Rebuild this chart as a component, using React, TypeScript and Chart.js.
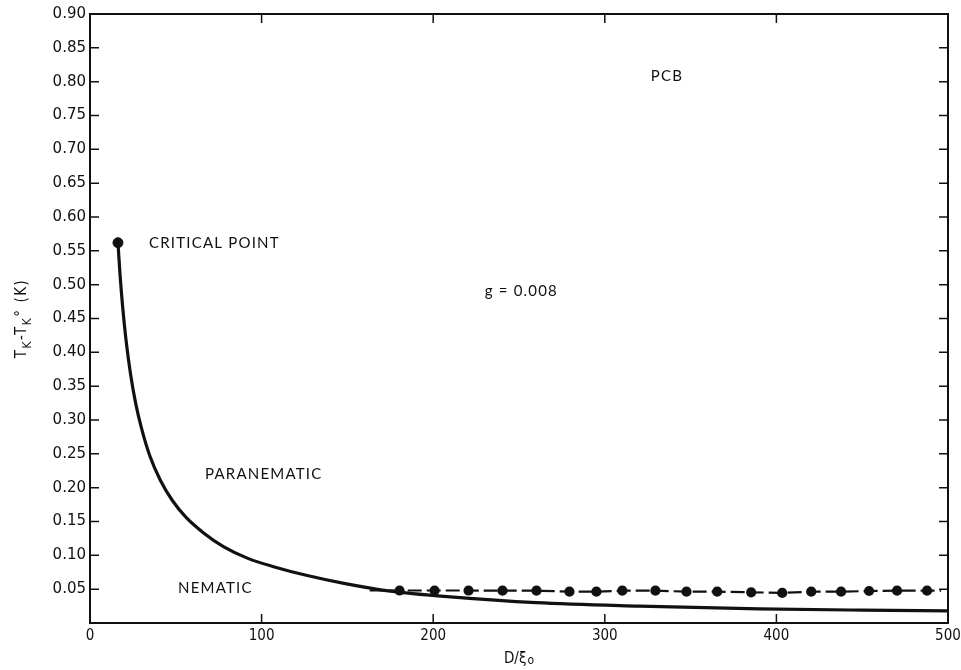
import React, { useEffect, useRef } from "react";
import { Chart, registerables } from "chart.js";

Chart.register(...registerables);

// Phase boundary curve (D/xi0, Tk - Tk0)
const curveX = [16.3, 17.5, 19, 21, 23.5, 26.5, 30, 35, 41, 48, 56, 66, 78, 92, 108, 126, 148, 175, 210, 260, 320, 390, 450, 500];
const curveY = [0.562, 0.515, 0.468, 0.418, 0.370, 0.326, 0.288, 0.246, 0.211, 0.181, 0.156, 0.1335, 0.1125, 0.0955, 0.0825, 0.0705, 0.0585, 0.047, 0.0385, 0.030, 0.025, 0.021, 0.019, 0.0178];

// Critical point
const criticalX = [16.3];
const criticalY = [0.562];

// Dotted/dashed series (points)
const dotX = [163, 180.4, 200.8, 220.6, 240.4, 260.2, 279.4, 295.1, 310.2, 329.5, 347.6, 365.5, 385.3, 403.4, 420.3, 437.7, 454.0, 470.3, 487.8, 496];
const dotY = [0.048, 0.048, 0.048, 0.048, 0.0478, 0.0478, 0.0463, 0.0463, 0.0478, 0.0478, 0.0463, 0.0463, 0.0454, 0.0445, 0.0463, 0.0463, 0.0473, 0.0478, 0.0478, 0.0478];
const dotShown = [false, true, true, true, true, true, true, true, true, true, true, true, true, true, true, true, true, true, true, false];

const xTicks = [0, 100, 200, 300, 400, 500];
const yTickStep = 0.05;

const labelTexts = ["CRITICAL POINT", "PARANEMATIC", "NEMATIC", "g = 0.008", "PCB"];
const labelX = [34.4, 67, 51.3, 230, 326.8];
const labelY = [0.562, 0.22, 0.052, 0.49, 0.808];

const INK = "#111";
const LABEL_FONT = "15px 'Lato', 'DejaVu Sans', sans-serif";
const TICK_FONT_FAMILY = "'DejaVu Sans Condensed', 'Liberation Sans Narrow', 'DejaVu Sans', sans-serif";

const framePlugin = {
  id: "frame",
  afterDatasetsDraw(chart: any) {
    const { ctx, chartArea: a, scales } = chart;
    const xs = scales.x;
    const ys = scales.y;
    ctx.save();
    ctx.strokeStyle = INK;
    ctx.lineWidth = 2;
    ctx.strokeRect(a.left, a.top, a.right - a.left, a.bottom - a.top);
    ctx.lineWidth = 1.5;
    const tl = 9;
    xTicks.forEach((v) => {
      if (v === xs.min || v === xs.max) return;
      const px = xs.getPixelForValue(v);
      ctx.beginPath();
      ctx.moveTo(px, a.bottom);
      ctx.lineTo(px, a.bottom - tl);
      ctx.moveTo(px, a.top);
      ctx.lineTo(px, a.top + tl);
      ctx.stroke();
    });
    for (let i = 1; i < 18; i++) {
      const py = ys.getPixelForValue(i * yTickStep);
      ctx.beginPath();
      ctx.moveTo(a.left, py);
      ctx.lineTo(a.left + tl, py);
      ctx.moveTo(a.right, py);
      ctx.lineTo(a.right - tl, py);
      ctx.stroke();
    }
    // annotations
    ctx.fillStyle = INK;
    ctx.font = LABEL_FONT;
    ctx.textBaseline = "middle";
    ctx.textAlign = "left";
    (ctx as any).letterSpacing = "1.2px";
    labelTexts.forEach((t, i) => {
      ctx.fillText(t, xs.getPixelForValue(labelX[i]), ys.getPixelForValue(labelY[i]));
    });
    (ctx as any).letterSpacing = "0px";

    // x title: D/ξo
    const cx = (a.left + a.right) / 2;
    ctx.font = "15px " + TICK_FONT_FAMILY;
    ctx.textAlign = "left";
    ctx.textBaseline = "alphabetic";
    const main = "D/ξ";
    const wMain = ctx.measureText(main).width;
    ctx.font = "12px " + TICK_FONT_FAMILY;
    const wSub = ctx.measureText("o").width;
    const startX = cx - (wMain + wSub + 1) / 2;
    const baseY = 663;
    ctx.font = "15px " + TICK_FONT_FAMILY;
    ctx.fillText(main, startX, baseY);
    ctx.font = "12px " + TICK_FONT_FAMILY;
    ctx.fillText("o", startX + wMain + 1, baseY + 1);

    // y title: T_K - T_K° (K), rotated
    const cy = (a.top + a.bottom) / 2;
    ctx.save();
    ctx.translate(26, cy);
    ctx.rotate(-Math.PI / 2);
    (ctx as any).letterSpacing = "1.5px";
    const parts: [string, boolean][] = [["T", false], ["K", true], ["-T", false], ["K", true], ["°", false], [" (K)", false]];
    const big = "15px " + TICK_FONT_FAMILY;
    const small = "12px " + TICK_FONT_FAMILY;
    let total = 0;
    parts.forEach(([s, sub]) => {
      ctx.font = sub ? small : big;
      total += ctx.measureText(s).width;
    });
    let x0 = -total / 2;
    parts.forEach(([s, sub]) => {
      ctx.font = sub ? small : big;
      ctx.fillText(s, x0, sub ? 5 : 0);
      x0 += ctx.measureText(s).width;
    });
    (ctx as any).letterSpacing = "0px";
    ctx.restore();
    ctx.restore();
  },
};

export default function App() {
  const ref = useRef<HTMLCanvasElement | null>(null);
  useEffect(() => {
    if (!ref.current) return;
    const curve = curveX.map((x, i) => ({ x, y: curveY[i] }));
    const crit = criticalX.map((x, i) => ({ x, y: criticalY[i] }));
    const dots = dotX.map((x, i) => ({ x, y: dotY[i] }));
    const chart = new Chart(ref.current, {
      type: "scatter",
      data: {
        datasets: [
          {
            data: curve,
            showLine: true,
            borderColor: INK,
            borderWidth: 3.2,
            pointRadius: 0,
            cubicInterpolationMode: "monotone",
          } as any,
          {
            data: dots,
            showLine: true,
            borderColor: INK,
            borderWidth: 2.2,
            borderDash: [14, 5],
            pointRadius: dotShown.map((s) => (s ? 4 : 0)),
            pointBackgroundColor: INK,
            pointBorderColor: INK,
          } as any,
          {
            data: crit,
            showLine: false,
            pointRadius: 5,
            pointBackgroundColor: INK,
            pointBorderColor: INK,
          } as any,
        ],
      },
      options: {
        animation: false,
        responsive: false,
        layout: { padding: { top: 14, right: 13, left: 0, bottom: 0 } },
        plugins: { legend: { display: false }, tooltip: { enabled: false } },
        scales: {
          x: {
            type: "linear",
            min: 0,
            max: 500,
            afterFit: (s: any) => {
              s.height = 47;
              s.paddingLeft = 0;
              s.paddingRight = 0;
            },
            afterBuildTicks: (s: any) => {
              s.ticks = xTicks.map((v) => ({ value: v }));
            },
            grid: { display: false, drawTicks: false },
            border: { display: false },
            ticks: {
              color: INK,
              padding: 4,
              maxRotation: 0,
              font: { family: TICK_FONT_FAMILY, size: 15 },
              callback: (v: any) => String(v),
            },
          },
          y: {
            type: "linear",
            min: 0,
            max: 0.9,
            afterFit: (s: any) => {
              s.width = 90;
              s.paddingTop = 0;
              s.paddingBottom = 0;
            },
            afterBuildTicks: (s: any) => {
              const t = [];
              for (let i = 0; i <= 18; i++) t.push({ value: +(i * yTickStep).toFixed(2) });
              s.ticks = t;
            },
            grid: { display: false, drawTicks: false },
            border: { display: false },
            ticks: {
              color: INK,
              padding: 4,
              font: { family: "'DejaVu Sans', sans-serif", size: 15 },
              callback: (v: any) => (v === 0 ? "" : Number(v).toFixed(2)),
            },
          },
        },
      },
      plugins: [framePlugin],
    } as any);
    return () => chart.destroy();
  }, []);
  return (
    <div style={{ position: "fixed", left: 0, top: 0, width: 961, height: 670, background: "#fff" }}>
      <canvas ref={ref} width={961} height={670} />
    </div>
  );
}
